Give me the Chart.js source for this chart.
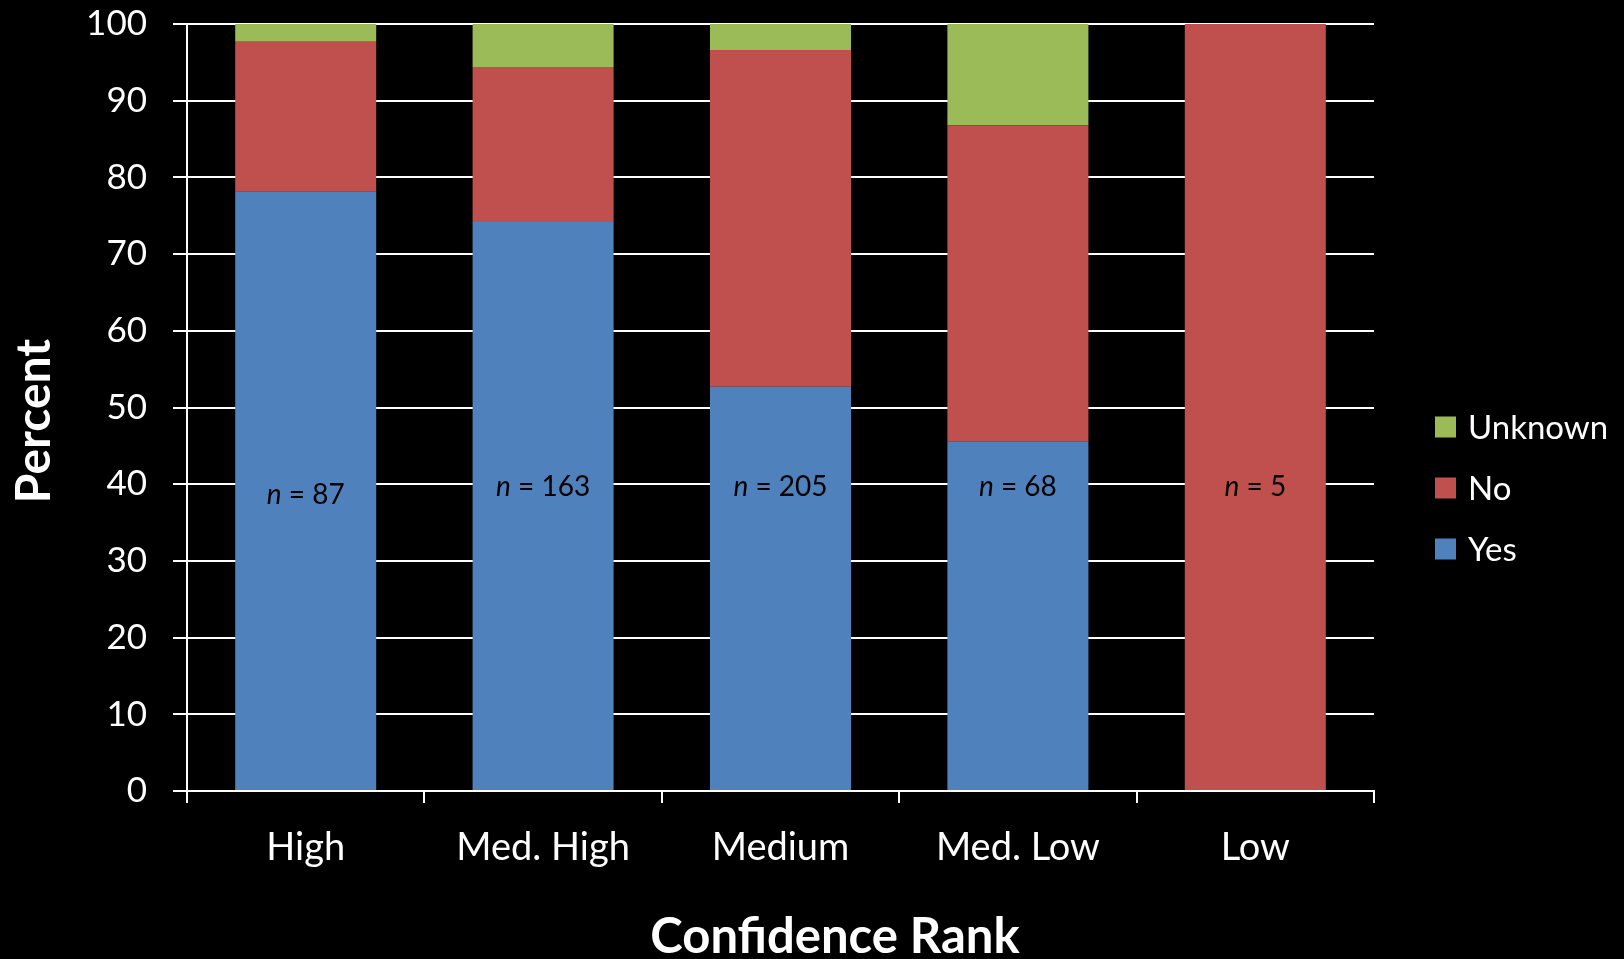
<!DOCTYPE html>
<html>
<head>
<meta charset="utf-8">
<script src="https://cdn.jsdelivr.net/npm/chart.js@4/dist/chart.umd.min.js"></script>
<style>
  html, body { margin: 0; padding: 0; background: #000; }
  #wrap { width: 1624px; height: 959px; position: relative; }
</style>
</head>
<body>
<div id="wrap"><canvas id="chart" width="1624" height="959"></canvas></div>
<script>
// Share of outcomes per confidence rank (percent of each group)
const categories  = ['High', 'Med. High', 'Medium', 'Med. Low', 'Low'];
const yesPct      = [78.2, 74.2, 52.7, 45.6, 0];
const noPct       = [19.5, 20.2, 43.9, 41.2, 100];
const unknownPct  = [2.3, 5.6, 3.4, 13.2, 0];
const sampleSizes = [87, 163, 205, 68, 5];
const yTickValues = [0, 10, 20, 30, 40, 50, 60, 70, 80, 90, 100];

// Vertical level (in percent units) where each "n = ..." note sits
const noteLevel = [38.6, 39.6, 39.6, 39.6, 39.6];

const FONT = 'Lato, "Open Sans", sans-serif';

// "n = 87" notes inside each bar, with an italic n
const sampleNotes = {
  id: 'sampleNotes',
  afterDatasetsDraw(chart) {
    const { ctx, scales: { x, y } } = chart;
    ctx.save();
    ctx.fillStyle = '#000';
    ctx.textBaseline = 'middle';
    sampleSizes.forEach((n, i) => {
      const cx = x.getPixelForValue(i);
      const cy = y.getPixelForValue(noteLevel[i]);
      const italic = 'italic 28px ' + FONT;
      const upright = '28px ' + FONT;
      ctx.font = italic;
      const w1 = ctx.measureText('n').width;
      ctx.font = upright;
      const rest = ' = ' + n;
      const w2 = ctx.measureText(rest).width;
      const start = cx - (w1 + w2) / 2;
      ctx.textAlign = 'left';
      ctx.font = italic;
      ctx.fillText('n', start, cy);
      ctx.font = upright;
      ctx.fillText(rest, start + w1, cy);
    });
    ctx.restore();
  }
};

// Axis titles and the legend on the right
const frameText = {
  id: 'frameText',
  afterDraw(chart) {
    const { ctx } = chart;
    ctx.save();
    ctx.fillStyle = '#fff';
    ctx.font = 'bold 49px ' + FONT;
    ctx.textAlign = 'center';
    ctx.textBaseline = 'alphabetic';
    ctx.fillText('Confidence Rank', 835, 953);

    ctx.font = 'bold 48px ' + FONT;
    ctx.translate(50, 421);
    ctx.rotate(-Math.PI / 2);
    ctx.fillText('Percent', 0, 0);
    ctx.restore();

    // legend: top item is the last stacked series
    ctx.save();
    const sets = chart.data.datasets.slice().reverse();
    ctx.font = '33px ' + FONT;
    ctx.textAlign = 'left';
    ctx.textBaseline = 'middle';
    sets.forEach((ds, k) => {
      const cy = 427 + k * 61;
      ctx.fillStyle = ds.backgroundColor;
      ctx.fillRect(1435, cy - 10.5, 21, 21);
      ctx.fillStyle = '#fff';
      ctx.fillText(ds.label, 1468, cy + 1);
    });
    ctx.restore();
  }
};

function build() {
  new Chart(document.getElementById('chart'), {
    type: 'bar',
    data: {
      labels: categories,
      datasets: [
        { label: 'Yes',     data: yesPct,     backgroundColor: '#4F81BD' },
        { label: 'No',      data: noPct,      backgroundColor: '#C0504D' },
        { label: 'Unknown', data: unknownPct, backgroundColor: '#9BBB59' }
      ]
    },
    options: {
      responsive: false,
      animation: false,
      devicePixelRatio: 1,
      datasets: { bar: { categoryPercentage: 1, barPercentage: 0.594, borderWidth: 0 } },
      layout: { padding: { top: 24, right: 250, left: 0, bottom: 0 } },
      plugins: {
        legend: { display: false },
        tooltip: { enabled: false },
        title: { display: false }
      },
      scales: {
        x: {
          stacked: true,
          offset: true,
          grid: {
            display: true, offset: true, drawOnChartArea: false,
            drawTicks: true, tickLength: 12, color: '#fff', lineWidth: 2
          },
          border: { display: true, color: '#fff', width: 2 },
          ticks: { color: '#fff', font: { family: FONT, size: 38 }, padding: 22, maxRotation: 0 },
          afterFit(scale) { scale.height = 168; }
        },
        y: {
          stacked: true,
          min: 0,
          max: 100,
          afterBuildTicks(scale) { scale.ticks = yTickValues.map(v => ({ value: v })); },
          grid: { color: '#fff', lineWidth: 2, tickLength: 14, drawTicks: true },
          border: { display: true, color: '#fff', width: 2 },
          ticks: { color: '#fff', font: { family: FONT, size: 35 }, padding: 26 },
          afterFit(scale) {
            scale.width = 187;
            scale.paddingTop = 0;
            scale.paddingBottom = 0;
          }
        }
      }
    },
    plugins: [sampleNotes, frameText]
  });
}

const wanted = ['35px Lato', '38px Lato', 'bold 48px Lato', 'bold 49px Lato', 'italic 28px Lato', '28px Lato', '33px Lato'];
Promise.all(wanted.map(f => document.fonts.load(f))).then(build, build);
</script>
</body>
</html>
